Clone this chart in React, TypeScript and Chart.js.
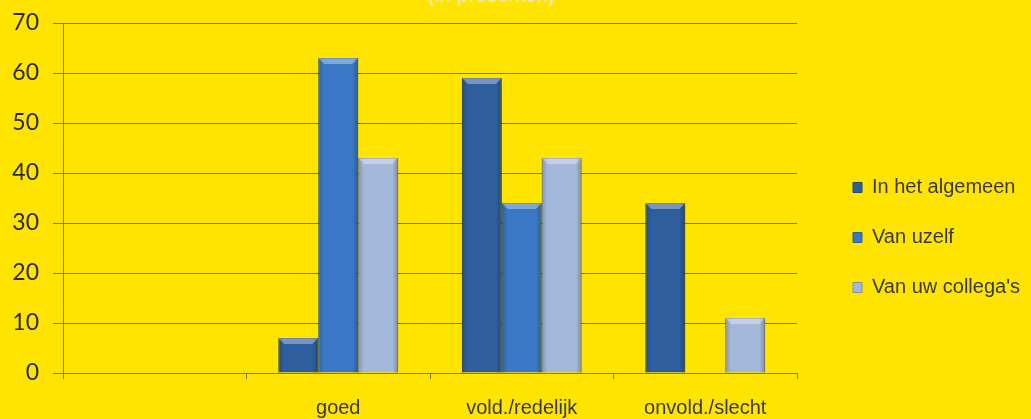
import React, { useEffect, useRef } from 'react';
import { Chart, registerables } from 'chart.js';

Chart.register(...registerables);

const categories = ['', 'goed', 'vold./redelijk', 'onvold./slecht'];
const seriesNames = ['In het algemeen', 'Van uzelf', "Van uw collega's"];
const algemeen = [null, 7, 59, 34];
const uzelf = [null, 63, 34, 0];
const collegas = [null, 43, 43, 11];
const yMin = 0;
const yMax = 70;
const yStep = 10;
const titleText = '(in procenten)';

const fillColors = ['#2F5E9E', '#3A78C6', '#A4B8DA'];
const borderColors = ['#22487c', '#2b5f9f', '#7d91b4'];

const bevelPlugin = {
  id: 'bevel',
  afterDatasetsDraw(chart: any) {
    const ctx = chart.ctx as CanvasRenderingContext2D;
    chart.data.datasets.forEach((_ds: any, di: number) => {
      const meta = chart.getDatasetMeta(di);
      if (meta.hidden) return;
      meta.data.forEach((el: any) => {
        const { x, y, width, base } = el.getProps(['x', 'y', 'width', 'base'], true);
        const h = base - y;
        if (!(h > 1)) return;
        const l = x - width / 2;
        const r = x + width / 2;
        const b = Math.min(6, h / 2);
        ctx.save();
        const g = ctx.createLinearGradient(l, 0, r, 0);
        g.addColorStop(0, 'rgba(0,0,0,0.20)');
        g.addColorStop(0.14, 'rgba(0,0,0,0)');
        g.addColorStop(0.86, 'rgba(0,0,0,0)');
        g.addColorStop(1, 'rgba(0,0,0,0.25)');
        ctx.fillStyle = g;
        ctx.fillRect(l, y, width, h);
        ctx.beginPath();
        ctx.moveTo(l, y);
        ctx.lineTo(r, y);
        ctx.lineTo(r - b, y + b);
        ctx.lineTo(l + b, y + b);
        ctx.closePath();
        ctx.fillStyle = 'rgba(255,255,255,0.35)';
        ctx.fill();
        ctx.restore();
      });
    });
  },
};

const legendWidthPlugin = {
  id: 'legendWidth',
  afterInit(chart: any) {
    const legend = chart.legend;
    if (!legend || legend.__patched) return;
    const orig = legend.fit.bind(legend);
    legend.fit = function () {
      orig();
      legend.width = 208;
    };
    legend.__patched = true;
  },
};

export default function App() {
  const ref = useRef<HTMLCanvasElement>(null);
  useEffect(() => {
    if (!ref.current) return;
    const chart = new Chart(ref.current, {
      type: 'bar',
      data: {
        labels: categories,
        datasets: [algemeen, uzelf, collegas].map((d, i) => ({
          label: seriesNames[i],
          data: d,
          backgroundColor: fillColors[i],
          borderColor: borderColors[i],
          borderWidth: 1,
          categoryPercentage: 0.653,
          barPercentage: 1,
          yAxisID: 'y',
        })),
      },
      plugins: [bevelPlugin, legendWidthPlugin],
      options: {
        animation: false,
        responsive: false,
        devicePixelRatio: 1,
        layout: { padding: { top: 23, left: 0, bottom: 0, right: 0 } },
        plugins: {
          title: { display: false },
          tooltip: { enabled: false },
          legend: {
            position: 'right',
            align: 'center',
            title: { display: true, text: ' ', font: { size: 10 }, padding: { top: 21, bottom: 0 } },
            labels: {
              boxWidth: 9,
              boxHeight: 10,
              padding: 30,
              color: '#3a3a3a',
              font: { family: '"Liberation Sans", Arial, sans-serif', size: 20 },
            },
          },
        },
        scales: {
          x: {
            grid: {
              offset: true,
              drawOnChartArea: false,
              drawTicks: true,
              tickLength: 6,
              color: '#7d7346',
            },
            border: { display: true, color: '#7d7346' },
            ticks: {
              color: '#3a3a3a',
              padding: 17,
              font: { family: '"Liberation Sans", Arial, sans-serif', size: 20 },
            },
            afterFit(scale: any) {
              scale.height = 46;
            },
          },
          y: {
            min: yMin,
            max: yMax,
            ticks: {
              stepSize: yStep,
              color: '#2b2b2b',
              padding: 14,
              font: { family: 'Lato, "Open Sans", sans-serif', size: 23, lineHeight: 0.7 },
            },
            grid: { color: '#7d7346', tickLength: 10 },
            border: { display: true, color: '#7d7346' },
            afterFit(scale: any) {
              scale.width = 63;
            },
          },
          y2: {
            position: 'right',
            display: true,
            grid: { display: false },
            border: { display: false },
            ticks: { display: false },
            afterFit(scale: any) {
              scale.width = 26;
            },
          },
        },
      },
    } as any);
    return () => chart.destroy();
  }, []);

  return (
    <div
      style={{
        position: 'fixed',
        left: 0,
        top: 0,
        width: 1031,
        height: 419,
        background: '#FFE400',
        overflow: 'hidden',
      }}
    >
      <div
        style={{
          position: 'absolute',
          top: -14,
          left: 0,
          width: 982,
          textAlign: 'center',
          fontFamily: '"Liberation Sans", Arial, sans-serif',
          fontWeight: 'bold',
          fontSize: 19,
          color: '#ece5b4',
          lineHeight: '20px',
        }}
      >
        {titleText}
      </div>
      <canvas ref={ref} width={1031} height={419} style={{ width: 1031, height: 419, display: 'block' }} />
    </div>
  );
}
